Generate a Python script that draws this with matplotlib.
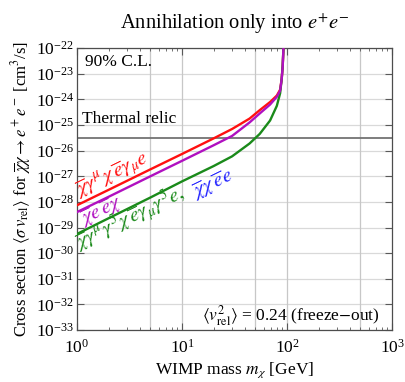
import numpy as np
import matplotlib
matplotlib.use("Agg")
import matplotlib.pyplot as plt
from matplotlib.ticker import FixedLocator, NullLocator, LogFormatterMathtext, LogLocator

plt.rcParams['font.family'] = ['Liberation Serif', 'DejaVu Serif']
plt.rcParams['mathtext.fontset'] = 'stix'

# WIMP mass [GeV] and limits on <sigma v> [cm^3/s]
mass = [1, 2, 5, 10, 20, 30, 44, 55, 69, 80, 86, 89, 91, 92.5, 93.5]
vector = [7.4e-29, 2.95e-28, 1.86e-27, 7.4e-27, 3.0e-26, 7.0e-26, 1.78e-25,
          3.8e-25, 7.9e-25, 1.41e-24, 2.4e-24, 6.3e-24, 2.0e-23, 1.0e-22, 3e-22]
scalar = [4.0e-29, 1.58e-28, 1.0e-27, 4.0e-27, 1.62e-26, 3.75e-26, 1.26e-25,
          2.82e-25, 6.3e-25, 1.26e-24, 2.2e-24, 6.3e-24, 2.0e-23, 1.0e-22, 3e-22]
axial = [5.6e-30, 2.3e-29, 1.48e-28, 6.3e-28, 2.5e-27, 6.0e-27, 1.9e-26,
         4.5e-26, 1.5e-25, 5.6e-25, 1.74e-24, 6.3e-24, 2.24e-23, 1.0e-22, 3e-22]

thermal = 3e-26
xgrid = [5, 10, 50, 100, 500]
yticks = [10.0**k for k in range(-33, -21)]

fig = plt.figure(figsize=(4.05, 3.82), dpi=100)
ax = fig.add_axes([0.19, 0.136, 0.778, 0.738])
ax.set_xscale('log')
ax.set_yscale('log')
ax.set_xlim(1, 1000)
ax.set_ylim(1e-33, 1e-22)

# grid
for v in yticks:
    ax.axhline(v, color='0.85', lw=0.9, zorder=0)
for v in xgrid:
    ax.axvline(v, color='0.78', lw=0.9, zorder=0)
ax.axhline(thermal, color='0.45', lw=1.3, zorder=1)

# curves
ax.plot(mass, vector, color='#ff1010', lw=1.7, zorder=3)
ax.plot(mass, axial, color='#1a8a1a', lw=1.7, zorder=3)
ax.plot(mass, scalar, color='#b010c0', lw=1.7, zorder=4)

# labels along the curves
kw = dict(rotation=26, rotation_mode='anchor', ha='left', va='baseline', fontsize=15)
ax.text(1.03, 1.55e-28, r'$\overline{\chi}\gamma^\mu\chi\,\overline{e}\gamma_\mu e$',
        color='#ff1010', **kw)
ax.text(1.16, 1.2e-29, r'$\overline{\chi}e\,\overline{e}\chi$', color='#b010c0', **kw)
ax.text(1.03, 1.35e-30,
        r'$\overline{\chi}\gamma^\mu\gamma^5\chi\,\overline{e}\gamma_\mu\gamma^5 e,$',
        color='#1a8a1a', **kw)
ax.text(13.5, 1.4e-28, r'$\overline{\chi}\chi\,\overline{e}e$', color='#2222ff', **kw)

ax.text(1.12, 1.25e-25, 'Thermal relic', fontsize=12.5, ha='left', va='baseline')
ax.text(1.2, 3e-23, '90% C.L.', fontsize=12.5, ha='left', va='center')
ax.text(760, 2.3e-33, r'$\langle v_{\rm rel}^2\rangle$ = 0.24 (freeze$-$out)',
        fontsize=12.5, ha='right', va='baseline')

# ticks
ax.yaxis.set_major_locator(FixedLocator(yticks))
ax.yaxis.set_major_formatter(LogFormatterMathtext())
ax.yaxis.set_minor_locator(NullLocator())
ax.xaxis.set_major_locator(FixedLocator([1, 10, 100, 1000]))
ax.xaxis.set_minor_locator(LogLocator(base=10, subs=np.arange(2, 10), numticks=20))
ax.tick_params(which='both', direction='in', top=True, right=True, labelsize=12.5,
               color='0.35')
ax.tick_params(which='major', length=5, width=0.8)
ax.tick_params(which='minor', length=2.5, width=0.6)
ax.tick_params(axis='y', pad=2)
ax.tick_params(axis='x', pad=6)
for s in ax.spines.values():
    s.set_color('0.3')
    s.set_linewidth(0.9)

ax.set_title(r'Annihilation only into $e^{+}e^{-}$', fontsize=14.8, pad=14)
ax.set_xlabel(r'WIMP mass $m_\chi$ [GeV]', fontsize=12.5, labelpad=3)
ax.set_ylabel(r'Cross section $\langle\sigma\, v_{\rm rel}\rangle$ for '
              r'$\overline{\chi}\chi\rightarrow e^+e^-$ [cm$^3$/s]', fontsize=12, labelpad=2)

fig.savefig('out.png', dpi=100)
